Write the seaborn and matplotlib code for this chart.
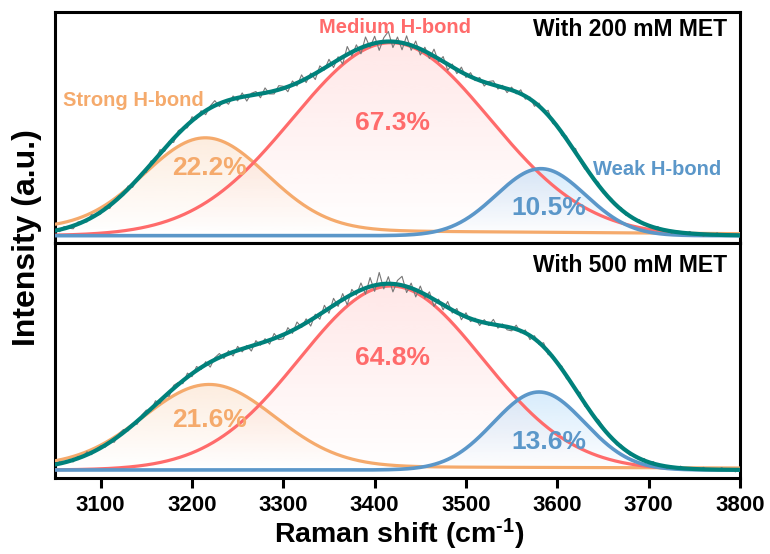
import numpy as np
import pandas as pd
import matplotlib
matplotlib.use("Agg")
import matplotlib.pyplot as plt
import seaborn as sns
from matplotlib.colors import to_rgb

sns.set_theme(style="ticks")
plt.rcParams['font.family'] = ['Liberation Sans', 'DejaVu Sans']
plt.rcParams['font.weight'] = 'bold'
plt.rcParams['text.color'] = 'black'
plt.rcParams['axes.labelcolor'] = 'black'
plt.rcParams['xtick.color'] = 'black'
plt.rcParams['mathtext.fontset'] = 'custom'
plt.rcParams['mathtext.rm'] = 'Liberation Sans:bold'
plt.rcParams['mathtext.bf'] = 'Liberation Sans:bold'
plt.rcParams['mathtext.default'] = 'bf'

# ---------------- data ----------------
shift_range = [3050, 3800]
x_ticks = [3100, 3200, 3300, 3400, 3500, 3600, 3700, 3800]
components = ["Strong H-bond", "Medium H-bond", "Weak H-bond"]

# Gaussian peak parameters (centre cm-1, height a.u., sigma cm-1)
centers_200 = [3215, 3418, 3582]
heights_200 = [92, 193, 67]
sigmas_200 = [67, 108, 49]
percent_200 = ["22.2%", "67.3%", "10.5%"]
strong_offset_200 = [7, 2]   # sloped baseline of strong component at 3050 / 3800

centers_500 = [3219, 3418, 3580]
heights_500 = [82, 184, 78]
sigmas_500 = [72, 100, 50]
percent_500 = ["21.6%", "64.8%", "13.6%"]
strong_offset_500 = [4, 2]

raw_step = 5
noise_200 = [1, -2, 2, -1, -3, 2, 1, -2, 3, -1,
             -2, 2, -3, 1, 2, -2, 3, -3, 1, 2,
             -3, 3, -1, 4, -3, 2, -4, 3, 1, -3,
             4, -2, 3, -4, 2, 5, -3, 1, -4, 3,
             -3, 4, -5, 2, 3, -4, 5, -2, -3, 4,
             2, -5, 4, -3, 6, -4, 3, -6, 5, -2,
             6, -5, 3, -7, 8, -4, 5, -6, 9, -3,
             7, -8, 4, 10, -6, 5, -7, 8, -5, 6,
             -6, 4, -5, 7, -3, 5, -6, 3, -4, 5,
             -3, 4, -2, 3, -4, 2, 4, -3, 2, -4,
             3, -2, 4, -3, 2, -4, 3, -2, 5, -3,
             2, -3, 3, -2, 4, -2, -3, 2, -2, 3,
             -2, 1, 2, -1, 2, -2, 1, -1, 2, -1,
             1, -1, 2, -1, 1, -2, 1, 1, -1, 2,
             -1, 1, -2, 1, -1, 2, -1, 1, -1, 1,
             -1]
noise_500 = [-1, 2, -1, 1, -2, 2, -1, 3, -2, 1,
             2, -2, 1, -3, 2, 3, -2, 1, -3, 2,
             3, -2, 4, -3, 1, -4, 3, 2, -3, 4,
             -3, 4, -2, 3, -5, 2, 4, -3, 3, -4,
             4, -3, 2, -5, 4, -2, 3, -4, 5, -3,
             -4, 5, -3, 6, -2, 4, -6, 3, -5, 6,
             -5, 7, -4, 6, -8, 5, -3, 7, -6, 9,
             -6, 12, -5, 7, -8, 4, 9, -6, 5, -7,
             6, -4, 5, -7, 3, -5, 6, -3, 4, -5,
             4, -3, 2, -4, 3, -2, 5, -3, 2, -3,
             -3, 4, -2, 3, -4, 3, -2, 4, -3, 2,
             -2, 3, -3, 2, -2, 4, -3, 2, -2, 3,
             2, -1, 1, -2, 2, -1, -2, 1, -1, 2,
             -1, 2, -1, 1, -2, 1, -1, 2, -1, 1,
             1, -1, 2, -1, 1, -1, 2, -1, 1, -2,
             1]
panel_titles = ["With 200 mM MET", "With 500 mM MET"]

# ---------------- style ----------------
line_colors = ["#F5AA6C", "#FF6B6B", "#5B97C9"]
fill_colors = ["#F5AA6C", "#FF6B6B", "#78BEF5"]
fill_alpha = [0.22, 0.16, 0.30]
fit_color = "#00817B"
raw_color = "#777777"

fig = plt.figure(figsize=(7.7, 5.54), dpi=100)
ax_top = fig.add_axes([0.0714, 0.5614, 0.8896, 0.4175])
ax_bot = fig.add_axes([0.0714, 0.1372, 0.8896, 0.4242])

x = np.linspace(shift_range[0], shift_range[1], 751)
x_raw = np.arange(shift_range[0], shift_range[1] + 1, raw_step)


def gauss(xx, c, h, s):
    return h * np.exp(-0.5 * ((xx - c) / s) ** 2)


def gradient_fill(ax, xx, lower, upper, color, a_top, z):
    poly = ax.fill_between(xx, lower, upper, facecolor='none', edgecolor='none', zorder=z)
    n = 256
    grad = np.zeros((n, 1, 4))
    grad[:, 0, :3] = to_rgb(color)
    grad[:, 0, 3] = np.linspace(0.0, a_top, n)
    im = ax.imshow(grad, aspect='auto', origin='lower',
                   extent=[xx.min(), xx.max(), float(np.min(lower)), float(np.max(upper))],
                   zorder=z, interpolation='bilinear')
    im.set_clip_path(poly.get_paths()[0], transform=ax.transData)


panels = [
    (ax_top, centers_200, heights_200, sigmas_200, percent_200, strong_offset_200, noise_200,
     panel_titles[0], (-7.3, 224), 0.925,
     [(0.225, 0.324), (0.493, 0.519), (0.721, 0.152)]),
    (ax_bot, centers_500, heights_500, sigmas_500, percent_500, strong_offset_500, noise_500,
     panel_titles[1], (-8, 227), 0.906,
     [(0.225, 0.247), (0.493, 0.511), (0.721, 0.153)]),
]

for (ax, cs, hs, ss, pcts, off, noise, title, ylim, title_y, pct_pos) in panels:
    base_strong = np.interp(x, shift_range, off)
    zero = np.zeros_like(x)
    comps = [gauss(x, c, h, s) for c, h, s in zip(cs, hs, ss)]
    bases = [base_strong, zero, zero]
    fit = comps[0] + comps[1] + comps[2]
    raw = np.interp(x_raw, x, fit) + np.array(noise)

    for i in range(3):
        gradient_fill(ax, x, bases[i], bases[i] + comps[i], fill_colors[i], fill_alpha[i], 1 + i * 0.1)

    df = pd.DataFrame({"shift": x, "strong": bases[0] + comps[0], "medium": comps[1],
                       "weak": comps[2], "fit": fit})
    sns.lineplot(data=df, x="shift", y="strong", ax=ax, color=line_colors[0], lw=2.3, zorder=3, legend=False)
    sns.lineplot(data=df, x="shift", y="medium", ax=ax, color=line_colors[1], lw=2.3, zorder=3.1, legend=False)
    sns.lineplot(data=df, x="shift", y="weak", ax=ax, color=line_colors[2], lw=2.6, zorder=3.2, legend=False)
    sns.lineplot(x=x_raw, y=raw, ax=ax, color=raw_color, lw=0.8, zorder=4, legend=False)
    sns.lineplot(data=df, x="shift", y="fit", ax=ax, color=fit_color, lw=3.0, zorder=5, legend=False)

    ax.set_xlim(shift_range)
    ax.set_ylim(ylim)
    ax.set_xlabel("")
    ax.set_ylabel("")
    ax.set_yticks([])
    for sp in ax.spines.values():
        sp.set_linewidth(2.2)
        sp.set_color("black")
        sp.set_visible(True)
    ax.text(0.981, title_y, title, transform=ax.transAxes,
            ha="right", va="center", fontsize=16.5, fontweight="bold", color="black", zorder=6)
    for i in range(3):
        ax.text(pct_pos[i][0], pct_pos[i][1], pcts[i], transform=ax.transAxes,
                ha="center", va="center", fontsize=19, fontweight="bold",
                color=line_colors[i], zorder=6)

# component names in the upper panel
ax_top.text(0.114, 0.618, components[0], transform=ax_top.transAxes, ha="center", va="center",
            fontsize=14.5, fontweight="bold", color=line_colors[0], zorder=6)
ax_top.text(0.496, 0.930, components[1], transform=ax_top.transAxes, ha="center", va="center",
            fontsize=14.5, fontweight="bold", color=line_colors[1], zorder=6)
ax_top.text(0.879, 0.316, components[2], transform=ax_top.transAxes, ha="center", va="center",
            fontsize=14.5, fontweight="bold", color=line_colors[2], zorder=6)

ax_top.set_xticks([])
ax_top.tick_params(axis="x", bottom=False, labelbottom=False)
ax_bot.set_xticks(x_ticks)
ax_bot.set_xticklabels([str(t) for t in x_ticks])
ax_bot.tick_params(axis="x", direction="out", length=7, width=2.2, pad=5,
                   labelsize=16, colors="black", labelcolor="black")
for lab in ax_bot.get_xticklabels():
    lab.set_fontweight("bold")
    lab.set_color("black")

fig.text(0.035, 0.572, "Intensity (a.u.)", rotation=90, ha="center", va="center",
         fontsize=23, fontweight="bold", color="black")
fig.text(0.519, 0.004, r"Raman shift (cm$^{\text{-1}}$)", ha="center", va="bottom",
         fontsize=20.5, fontweight="bold", color="black")

fig.savefig("out.png", dpi=100)
